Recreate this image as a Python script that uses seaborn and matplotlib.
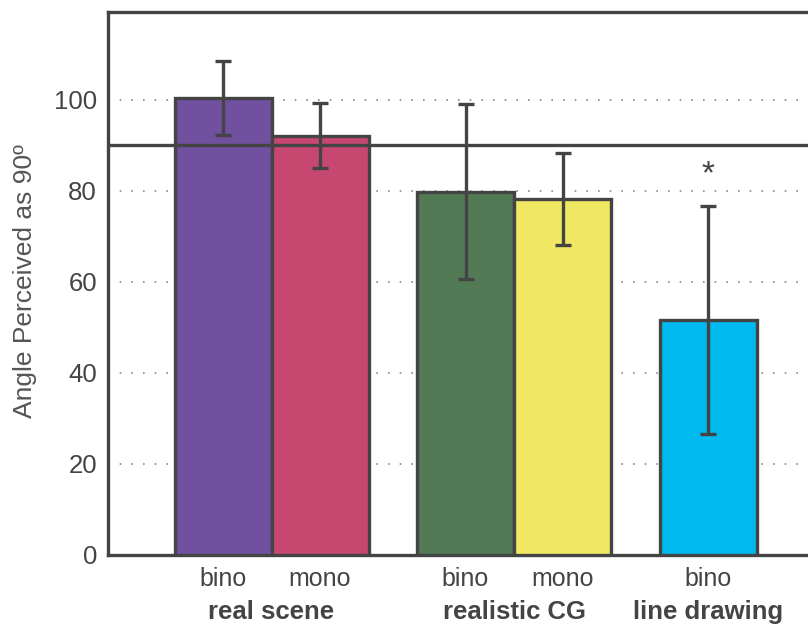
import matplotlib
matplotlib.use("Agg")
import matplotlib.pyplot as plt
import seaborn as sns
import pandas as pd

# Data
conditions = ["bino", "mono", "bino", "mono", "bino"]
groups = ["real scene", "real scene", "realistic CG", "realistic CG", "line drawing"]
bar_ids = ["rs_bino", "rs_mono", "cg_bino", "cg_mono", "ld_bino"]
positions = [0, 1, 2.5, 3.5, 5]
values = [100.4, 92.1, 79.8, 78.2, 51.6]
errors = [8.2, 7.1, 19.2, 10.1, 25.0]
colors = ["#70509F", "#C64870", "#527A55", "#F0E862", "#00B9EE"]
group_labels = ["real scene", "realistic CG", "line drawing"]
group_centers = [0.5, 3.0, 5.0]
reference_line = 90
yticks = [0, 20, 40, 60, 80, 100]

sns.set_theme(style="white")
plt.rcParams["font.family"] = ["Liberation Sans", "DejaVu Sans"]

df = pd.DataFrame({"pos": positions, "value": values, "id": bar_ids})

fig = plt.figure(figsize=(8.08, 6.31), dpi=100)
W, H = 808, 631
ax = fig.add_axes([108 / W, (H - 555) / H, (830 - 108) / W, (555 - 12) / H])

edge = "#444444"
sns.barplot(data=df, x="pos", y="value", hue="id", palette=dict(zip(bar_ids, colors)),
            native_scale=True, width=1.0, legend=False, ax=ax, saturation=1,
            edgecolor=edge, linewidth=2.4, zorder=3)

ax.errorbar(positions, values, yerr=errors, fmt="none", ecolor=edge,
            elinewidth=2.4, capsize=5.5, capthick=2.4, zorder=5)

ax.set_ylim(0, 119.3)
ax.set_xlim(-1.186, -1.186 + (830 - 108) / 97)

# dotted grid
for t in yticks[1:]:
    ax.axhline(t, color="#888888", linestyle=(0, (1, 6)), linewidth=1.2, zorder=1)
ax.axhline(reference_line, color=edge, linewidth=2.4, zorder=6)

ax.set_yticks(yticks)
ax.set_yticklabels([str(t) for t in yticks], fontsize=18.5, color="#444444")
ax.set_xticks(positions)
ax.set_xticklabels(conditions, fontsize=18, color="#444444")
ax.tick_params(axis="x", length=0, pad=9)
ax.tick_params(axis="y", length=0, pad=8)

for x, lab in zip(group_centers, group_labels):
    ax.text(x, -0.105, lab, transform=ax.get_xaxis_transform(), ha="center", va="center",
            fontsize=18.5, fontweight="bold", color="#444444")

ax.text(5, 83.5, "*", ha="center", va="center", fontsize=24, color=edge)

ax.set_xlabel("")
ax.set_ylabel("Angle Perceived as 90º", fontsize=19, color="#555555")
ax.yaxis.label.set_va("center")
ax.yaxis.set_label_coords(-0.115, 0.505)

for s in ["left", "bottom", "top"]:
    ax.spines[s].set_color(edge)
    ax.spines[s].set_linewidth(2.4)
ax.spines["right"].set_visible(False)

fig.savefig("out.png", dpi=100)
